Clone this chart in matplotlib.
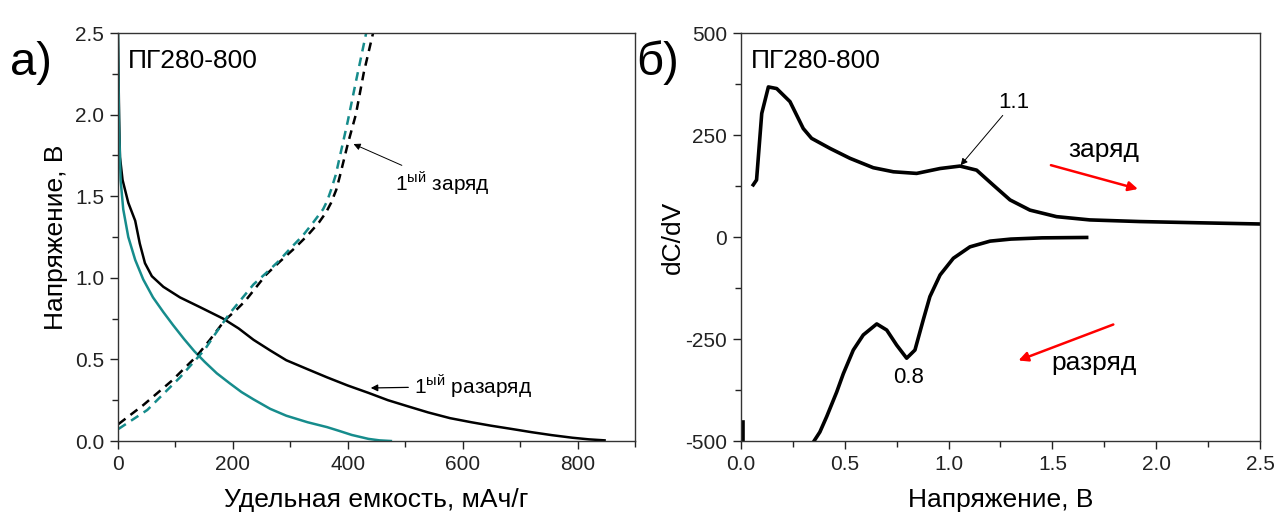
import numpy as np
import matplotlib
matplotlib.use("Agg")
import matplotlib.pyplot as plt
from matplotlib.ticker import MultipleLocator

plt.rcParams['font.family'] = ['Liberation Sans', 'DejaVu Sans']
plt.rcParams['mathtext.fontset'] = 'custom'
plt.rcParams['mathtext.rm'] = 'Liberation Sans'
plt.rcParams['axes.unicode_minus'] = False

# panel a) - galvanostatic curves
dis1_cap = [0, 2, 3.5, 8, 18, 30, 38, 47, 59, 79, 108, 143, 183, 210, 236, 265, 293,
            330, 364, 400, 436, 470, 507, 540, 578, 615, 649, 685, 720, 755, 791, 820, 847]
dis1_v = [2.50, 1.98, 1.74, 1.60, 1.46, 1.35, 1.21, 1.09, 1.01, 0.945, 0.88, 0.82, 0.75,
          0.69, 0.62, 0.555, 0.495, 0.44, 0.39, 0.34, 0.295, 0.25, 0.21, 0.175, 0.14,
          0.115, 0.094, 0.074, 0.054, 0.036, 0.02, 0.01, 0.004]

dis2_cap = [0, 0.5, 2, 4.6, 9.2, 18, 30, 44, 61, 79, 96, 115, 133, 151, 172, 194,
            215, 236, 265, 293, 330, 364, 385, 407, 436, 455, 475]
dis2_v = [2.50, 2.31, 1.91, 1.60, 1.42, 1.25, 1.11, 0.99, 0.88, 0.79, 0.71, 0.625, 0.55,
          0.485, 0.415, 0.355, 0.30, 0.255, 0.197, 0.155, 0.115, 0.085, 0.062, 0.037,
          0.013, 0.004, 0.0]

ch1_cap = [1, 44, 94, 137, 160, 186, 205, 222, 240, 258, 282, 307, 330, 350, 362,
           371, 380, 386, 393, 400, 407, 414, 421, 428, 436, 444]
ch1_v = [0.104, 0.22, 0.37, 0.52, 0.62, 0.74, 0.80, 0.86, 0.94, 1.02, 1.10, 1.18, 1.26,
         1.34, 1.40, 1.46, 1.54, 1.62, 1.72, 1.82, 1.91, 2.00, 2.13, 2.26, 2.38, 2.50]

ch2_cap = [1, 51, 108, 151, 172, 194, 215, 236, 258, 279, 300, 322, 340, 357, 364,
           371, 379, 386, 393, 400, 407, 414, 423, 432]
ch2_v = [0.074, 0.19, 0.39, 0.56, 0.67, 0.78, 0.87, 0.96, 1.03, 1.10, 1.18, 1.26, 1.34,
         1.42, 1.47, 1.54, 1.63, 1.74, 1.85, 1.96, 2.08, 2.20, 2.35, 2.50]

# panel б) - differential capacity
chg_v = [0.059, 0.075, 0.10, 0.132, 0.172, 0.236, 0.30, 0.34, 0.43, 0.525, 0.637,
         0.734, 0.846, 0.959, 1.055, 1.135, 1.216, 1.296, 1.392, 1.52, 1.68, 1.92,
         2.2, 2.5]
chg_dcdv = [128, 140, 303, 368, 364, 332, 266, 242, 217, 193, 170,
            160, 156, 168, 174, 164, 127, 91, 66, 50, 42, 38,
            35, 32]

dch_v = [0.352, 0.38, 0.413, 0.461, 0.493, 0.541, 0.589, 0.654, 0.702, 0.75, 0.798,
         0.838, 0.878, 0.91, 0.959, 1.023, 1.103, 1.2, 1.3, 1.45, 1.665]
dch_dcdv = [-500, -478, -440, -380, -335, -277, -240, -213, -228, -265, -297,
            -277, -203, -146, -93, -52, -24, -10, -5, -2, -1]

edge_v = [0.008, 0.008]
edge_dcdv = [-453, -500]

teal = '#168c8c'

fig = plt.figure(figsize=(12.78, 5.17), dpi=100)
ax1 = fig.add_axes([0.0923, 0.147, 0.4046, 0.789])
ax2 = fig.add_axes([0.5798, 0.147, 0.4061, 0.789])

ax1.plot(dis1_cap, dis1_v, color='black', lw=1.8)
ax1.plot(dis2_cap, dis2_v, color=teal, lw=1.8)
ax1.plot(ch1_cap, ch1_v, color='black', lw=1.8, ls=(0, (3.5, 2.5)))
ax1.plot(ch2_cap, ch2_v, color=teal, lw=1.8, ls=(0, (3.5, 2.5)))

ax1.set_xlim(0, 900)
ax1.set_ylim(0, 2.5)
ax1.xaxis.set_major_locator(MultipleLocator(200))
ax1.xaxis.set_minor_locator(MultipleLocator(100))
ax1.yaxis.set_major_locator(MultipleLocator(0.5))
ax1.yaxis.set_minor_locator(MultipleLocator(0.25))
ax1.set_xlabel('Удельная емкость, мАч/г', fontsize=19, labelpad=10)
ax1.set_ylabel('Напряжение, В', fontsize=19, labelpad=5)
ax1.text(0.02, 0.96, 'ПГ280-800', transform=ax1.transAxes, fontsize=19, va='top')
fig.text(0.008, 0.878, 'а)', fontsize=34, va='center')

ax1.annotate(r'$1^{\mathrm{ый}}$ заряд', xy=(410, 1.82), xytext=(482, 1.58),
             fontsize=15, va='center',
             arrowprops=dict(arrowstyle='-|>', color='black', lw=0.7, shrinkA=2, shrinkB=0,
                             mutation_scale=10))
ax1.annotate(r'$1^{\mathrm{ый}}$ разаряд', xy=(440, 0.325), xytext=(515, 0.335),
             fontsize=15, va='center',
             arrowprops=dict(arrowstyle='-|>', color='black', lw=0.9, shrinkA=2, shrinkB=0,
                             mutation_scale=10))

ax2.plot(chg_v, chg_dcdv, color='black', lw=2.6)
ax2.plot(dch_v, dch_dcdv, color='black', lw=2.6)
ax2.plot(edge_v, edge_dcdv, color='black', lw=2.6)

ax2.set_xlim(0, 2.5)
ax2.set_ylim(-500, 500)
ax2.xaxis.set_major_locator(MultipleLocator(0.5))
ax2.xaxis.set_minor_locator(MultipleLocator(0.25))
ax2.yaxis.set_major_locator(MultipleLocator(250))
ax2.yaxis.set_minor_locator(MultipleLocator(125))
ax2.set_xlabel('Напряжение, В', fontsize=19, labelpad=10)
ax2.set_ylabel('dC/dV', fontsize=19, labelpad=0)
ax2.text(0.02, 0.96, 'ПГ280-800', transform=ax2.transAxes, fontsize=19, va='top')
fig.text(0.498, 0.878, 'б)', fontsize=34, va='center')

ax2.annotate('1.1', xy=(1.058, 176), xytext=(1.315, 305), fontsize=16, ha='center', va='bottom',
             arrowprops=dict(arrowstyle='-|>', color='black', lw=0.7, shrinkA=0, shrinkB=0,
                             mutation_scale=10))
ax2.text(0.806, -345, '0.8', fontsize=16, ha='center', va='center')
ax2.annotate('', xy=(1.925, 116), xytext=(1.48, 178),
             arrowprops=dict(arrowstyle='-|>', color='red', lw=1.8, mutation_scale=14))
ax2.text(1.75, 214, 'заряд', fontsize=19, ha='center', va='center')
ax2.annotate('', xy=(1.324, -305), xytext=(1.806, -212),
             arrowprops=dict(arrowstyle='-|>', color='red', lw=1.8, mutation_scale=14))
ax2.text(1.70, -309, 'разряд', fontsize=19, ha='center', va='center')

for ax in (ax1, ax2):
    ax.tick_params(which='both', direction='out', top=False, right=False,
                   labelsize=15, colors='#222222', pad=4)
    ax.tick_params(which='major', length=6, width=1)
    ax.tick_params(which='minor', length=4, width=1)
    for s in ax.spines.values():
        s.set_color('#333333')
        s.set_linewidth(1)

fig.savefig('out.png', dpi=100)
